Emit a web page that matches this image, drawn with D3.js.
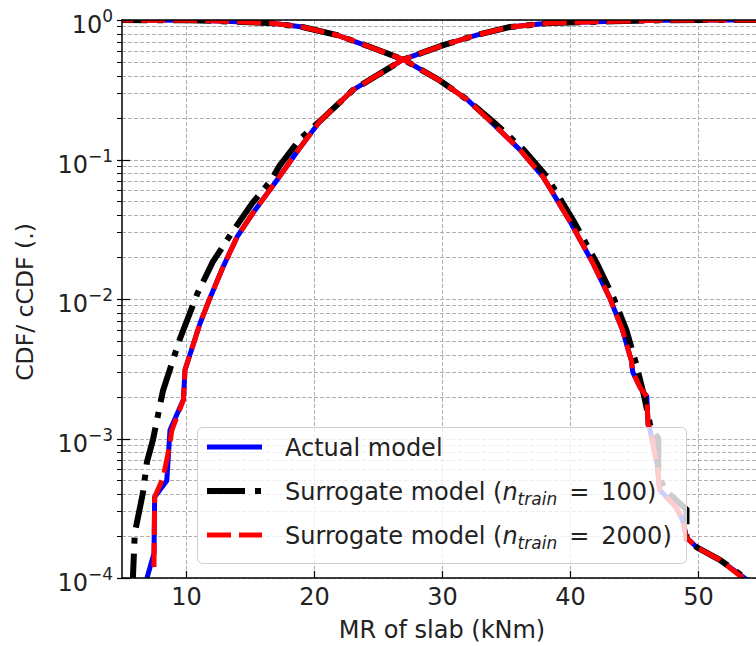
<!DOCTYPE html>
<html>
<head>
<meta charset="utf-8">
<script src="https://cdn.jsdelivr.net/npm/d3@7"></script>
<style>
  body { margin: 0; background: #fff; }
  svg { display: block; font-family: "DejaVu Sans", sans-serif; }
</style>
</head>
<body>
<svg class="chart" width="756" height="646"></svg>
<script>
// values: MR of slab (kNm) vs probability
var actualCdfX  = [6.8, 6.95, 7.5, 7.55, 8.5, 8.75, 9.8, 9.92, 11.1, 11.9, 12.9, 14.0, 15.2, 17.1, 18.8, 20.5, 23.05, 26.95, 30.1, 32.7, 35.3, 38.4, 43.4, 47, 50, 56];
var actualCdfY  = [8e-5, 1e-4, 1.5e-4, 3.8e-4, 5.0e-4, 1.15e-3, 1.9e-3, 3.1e-3, 6.7e-3, 1.03e-2, 1.7e-2, 2.8e-2, 4.1e-2, 7.1e-2, 0.118, 0.19, 0.315, 0.52, 0.66, 0.78, 0.89, 0.95, 0.98, 0.995, 1, 1];
var actualCcdfX = [4, 10, 12, 14, 16.6, 19.1, 21.8, 24.4, 27, 29.8, 32, 34, 36.1, 37.9, 40, 41.8, 43.1, 44.1, 44.8, 44.9, 45.5, 46.0, 46.1, 46.25, 46.8, 47.0, 48.3, 48.8, 49.1, 49.9, 51.7, 53.5, 54.3];
var actualCcdfY = [1, 0.995, 0.988, 0.97, 0.95, 0.89, 0.78, 0.64, 0.52, 0.37, 0.267, 0.18, 0.117, 0.075, 0.036, 0.018, 0.0102, 0.006, 0.0036, 0.003, 0.0023, 0.002, 0.00126, 0.00115, 6.6e-4, 4.3e-4, 3.2e-4, 2.6e-4, 1.95e-4, 1.66e-4, 1.35e-4, 1.02e-4, 9e-5];

var sur100CdfX  = [5.8, 5.85, 6.0, 6.64, 6.95, 7.42, 8.2, 9.5, 10.9, 12.1, 13.7, 15.2, 16.6, 17.3, 18.9, 20.5, 23.05, 26.95, 30.1, 32.7, 35.3, 38.4, 43.4, 47, 50, 56];
var sur100CdfY  = [8e-5, 1e-4, 2.1e-4, 4.1e-4, 6.8e-4, 9.8e-4, 2.2e-3, 5.1e-3, 1.1e-2, 1.85e-2, 3.1e-2, 4.9e-2, 7.0e-2, 0.09, 0.14, 0.19, 0.315, 0.52, 0.66, 0.78, 0.89, 0.95, 0.98, 0.995, 1, 1];
var sur100CcdfX = [4, 10, 12, 14, 16.6, 19.1, 21.8, 24.4, 27, 29.8, 32, 34.2, 36.4, 38.2, 40.3, 42.1, 43.4, 44.4, 45.1, 45.8, 46.3, 46.9, 46.9, 47.4, 49.1, 49.1, 49.9, 51.7, 53.7, 54.3];
var sur100CcdfY = [1, 0.995, 0.988, 0.97, 0.95, 0.89, 0.78, 0.64, 0.52, 0.37, 0.267, 0.18, 0.117, 0.075, 0.036, 0.018, 0.0102, 0.006, 0.0036, 0.002, 0.0012, 1.0e-3, 5.5e-4, 4.3e-4, 3.1e-4, 1.9e-4, 1.66e-4, 1.35e-4, 1.0e-4, 9e-5];

var sur2000CdfX  = [7.5, 7.55, 8.2, 8.6, 8.9, 9.8, 9.92, 11.1, 11.9, 12.9, 14.0, 15.2, 17.1, 18.8, 20.5, 23.05, 26.95, 30.1, 32.7, 35.3, 38.4, 43.4, 47, 50, 56];
var sur2000CdfY  = [1.2e-4, 3.8e-4, 5.2e-4, 7.8e-4, 1.15e-3, 1.9e-3, 3.1e-3, 6.7e-3, 1.03e-2, 1.7e-2, 2.8e-2, 4.1e-2, 7.1e-2, 0.118, 0.19, 0.315, 0.52, 0.66, 0.78, 0.89, 0.95, 0.98, 0.995, 1, 1];
var sur2000CcdfX = [4, 10, 12, 14, 16.6, 19.1, 21.8, 24.4, 27, 29.8, 32, 34, 36.1, 37.9, 40, 41.8, 43.1, 44.1, 44.8, 44.9, 45.5, 46.0, 46.1, 46.25, 46.8, 47.0, 48.3, 48.8, 49.1, 49.9, 51.7, 53.5];
var sur2000CcdfY = [1, 0.995, 0.988, 0.97, 0.95, 0.89, 0.78, 0.64, 0.52, 0.37, 0.267, 0.18, 0.117, 0.075, 0.036, 0.018, 0.0102, 0.006, 0.0036, 0.003, 0.0023, 0.002, 0.00126, 0.00115, 6.6e-4, 4.3e-4, 3.2e-4, 2.6e-4, 1.95e-4, 1.66e-4, 1.35e-4, 1.0e-4];

var xTicks = [10, 20, 30, 40, 50];
var yMajor = [1e-4, 1e-3, 1e-2, 1e-1, 1];
var yMajorExp = ["\u22124", "\u22123", "\u22122", "\u22121", "0"];

var svg = d3.select("svg.chart");

var x = d3.scaleLinear().domain([5, 55]).range([122, 762]);
var y = d3.scaleLog().domain([1e-4, 1]).range([578, 20]);

// minor decades 2..9
var yMinor = [];
for (var k = -4; k < 0; k++) {
  for (var m = 2; m <= 9; m++) yMinor.push(m * Math.pow(10, k));
}

// grid
var grid = svg.append("g").attr("class", "grid")
    .attr("stroke", "#b0b0b0").attr("stroke-width", 1).attr("stroke-dasharray", "4,2");
grid.selectAll("line.hy")
    .data(yMajor.concat(yMinor))
  .enter().append("line")
    .attr("x1", 122).attr("x2", 762)
    .attr("y1", function(d) { return Math.round(y(d)) + 0.5; })
    .attr("y2", function(d) { return Math.round(y(d)) + 0.5; });
grid.selectAll("line.vx")
    .data(xTicks)
  .enter().append("line")
    .attr("y1", 20).attr("y2", 578)
    .attr("x1", function(d) { return Math.round(x(d)) + 0.5; })
    .attr("x2", function(d) { return Math.round(x(d)) + 0.5; });

// curves
svg.append("defs").append("clipPath").attr("id", "plotclip")
  .append("rect").attr("x", 122).attr("y", 20).attr("width", 640).attr("height", 558);

var line = d3.line()
    .x(function(d) { return x(d[0]); })
    .y(function(d) { return y(d[1]); });

function pairs(xs, ys) { return xs.map(function(v, i) { return [v, ys[i]]; }); }

var series = [
  { name: "actual",  color: "#0000ff", width: 5, dash: null,          data: [pairs(actualCdfX, actualCdfY), pairs(actualCcdfX, actualCcdfY)] },
  { name: "sur100",  color: "#000000", width: 6, dash: "38,10,6,10",  data: [pairs(sur100CdfX, sur100CdfY), pairs(sur100CcdfX, sur100CcdfY)] },
  { name: "sur2000", color: "#ff0000", width: 5, dash: "24,8",        data: [pairs(sur2000CdfX, sur2000CdfY), pairs(sur2000CcdfX, sur2000CcdfY)] }
];

var plot = svg.append("g").attr("clip-path", "url(#plotclip)");
series.forEach(function(s) {
  plot.selectAll("path." + s.name)
      .data(s.data)
    .enter().append("path")
      .attr("class", s.name)
      .attr("d", line)
      .attr("fill", "none")
      .attr("stroke", s.color)
      .attr("stroke-width", s.width)
      .attr("stroke-dasharray", s.dash);
});

// spines
var spines = svg.append("g").attr("stroke", "#000").attr("stroke-width", 1.5);
spines.append("line").attr("x1", 122).attr("x2", 122).attr("y1", 19.5).attr("y2", 578.5);
spines.append("line").attr("x1", 121.5).attr("x2", 762).attr("y1", 578).attr("y2", 578);
spines.append("line").attr("x1", 121.5).attr("x2", 762).attr("y1", 20).attr("y2", 20);

// x ticks (inward) and labels
var xt = svg.append("g").selectAll("g").data(xTicks).enter().append("g")
    .attr("transform", function(d) { return "translate(" + (Math.round(x(d)) + 0.5) + ",0)"; });
xt.append("line").attr("y1", 578).attr("y2", 571).attr("stroke", "#000").attr("stroke-width", 1.2);
xt.append("text").attr("y", 605).attr("text-anchor", "middle")
    .attr("font-size", 24).attr("fill", "#222")
    .text(function(d) { return d; });

// y ticks
svg.append("g").selectAll("line").data(yMinor).enter().append("line")
    .attr("x1", 117).attr("x2", 122)
    .attr("y1", function(d) { return Math.round(y(d)) + 0.5; })
    .attr("y2", function(d) { return Math.round(y(d)) + 0.5; })
    .attr("stroke", "#000").attr("stroke-width", 1);
var yt = svg.append("g").selectAll("g").data(yMajor).enter().append("g")
    .attr("transform", function(d) { return "translate(0," + (Math.round(y(d)) + 0.5) + ")"; });
yt.append("line").attr("x1", 117).attr("x2", 130).attr("stroke", "#000").attr("stroke-width", 1.2);
var ylab = yt.append("text").attr("x", 113).attr("y", 12).attr("text-anchor", "end")
    .attr("font-size", 24).attr("fill", "#222");
ylab.append("tspan").text("10");
ylab.append("tspan").attr("dy", -11).attr("font-size", 17).text(function(d, i) { return yMajorExp[i]; });

// axis labels
svg.append("text").attr("x", 442).attr("y", 638).attr("text-anchor", "middle")
    .attr("font-size", 24).attr("fill", "#222").text("MR of slab (kNm)");
svg.append("text").attr("transform", "translate(33,302) rotate(-90)").attr("text-anchor", "middle")
    .attr("font-size", 23.5).attr("fill", "#222").text("CDF/ cCDF (.)");

// legend
var legend = svg.append("g");
legend.append("rect").attr("x", 197.5).attr("y", 427.5).attr("width", 489).attr("height", 136).attr("rx", 5)
    .attr("fill", "#fff").attr("fill-opacity", 0.8).attr("stroke", "#d0d0d0").attr("stroke-width", 1);
var legendRows = [
  { s: series[0], label: ["Actual model"] },
  { s: series[1], label: ["Surrogate model (", "n", "train", "\u2002=\u2002100)"] },
  { s: series[2], label: ["Surrogate model (", "n", "train", "\u2002=\u20022000)"] }
];
var rowY = [447, 491, 535];
legendRows.forEach(function(r, i) {
  legend.append("line").attr("x1", 207).attr("x2", 262).attr("y1", rowY[i]).attr("y2", rowY[i])
      .attr("stroke", r.s.color).attr("stroke-width", r.s.width).attr("stroke-dasharray", r.s.dash);
  var t = legend.append("text").attr("x", 285).attr("y", rowY[i] + 8.5)
      .attr("font-size", 24).attr("fill", "#222");
  t.append("tspan").text(r.label[0]);
  if (r.label.length > 1) {
    t.append("tspan").attr("font-style", "italic").text(r.label[1]);
    t.append("tspan").attr("font-style", "italic").attr("font-size", 17).attr("dy", 5).text(r.label[2]);
    t.append("tspan").attr("dy", -5).text(r.label[3]);
  }
});
</script>
</body>
</html>
